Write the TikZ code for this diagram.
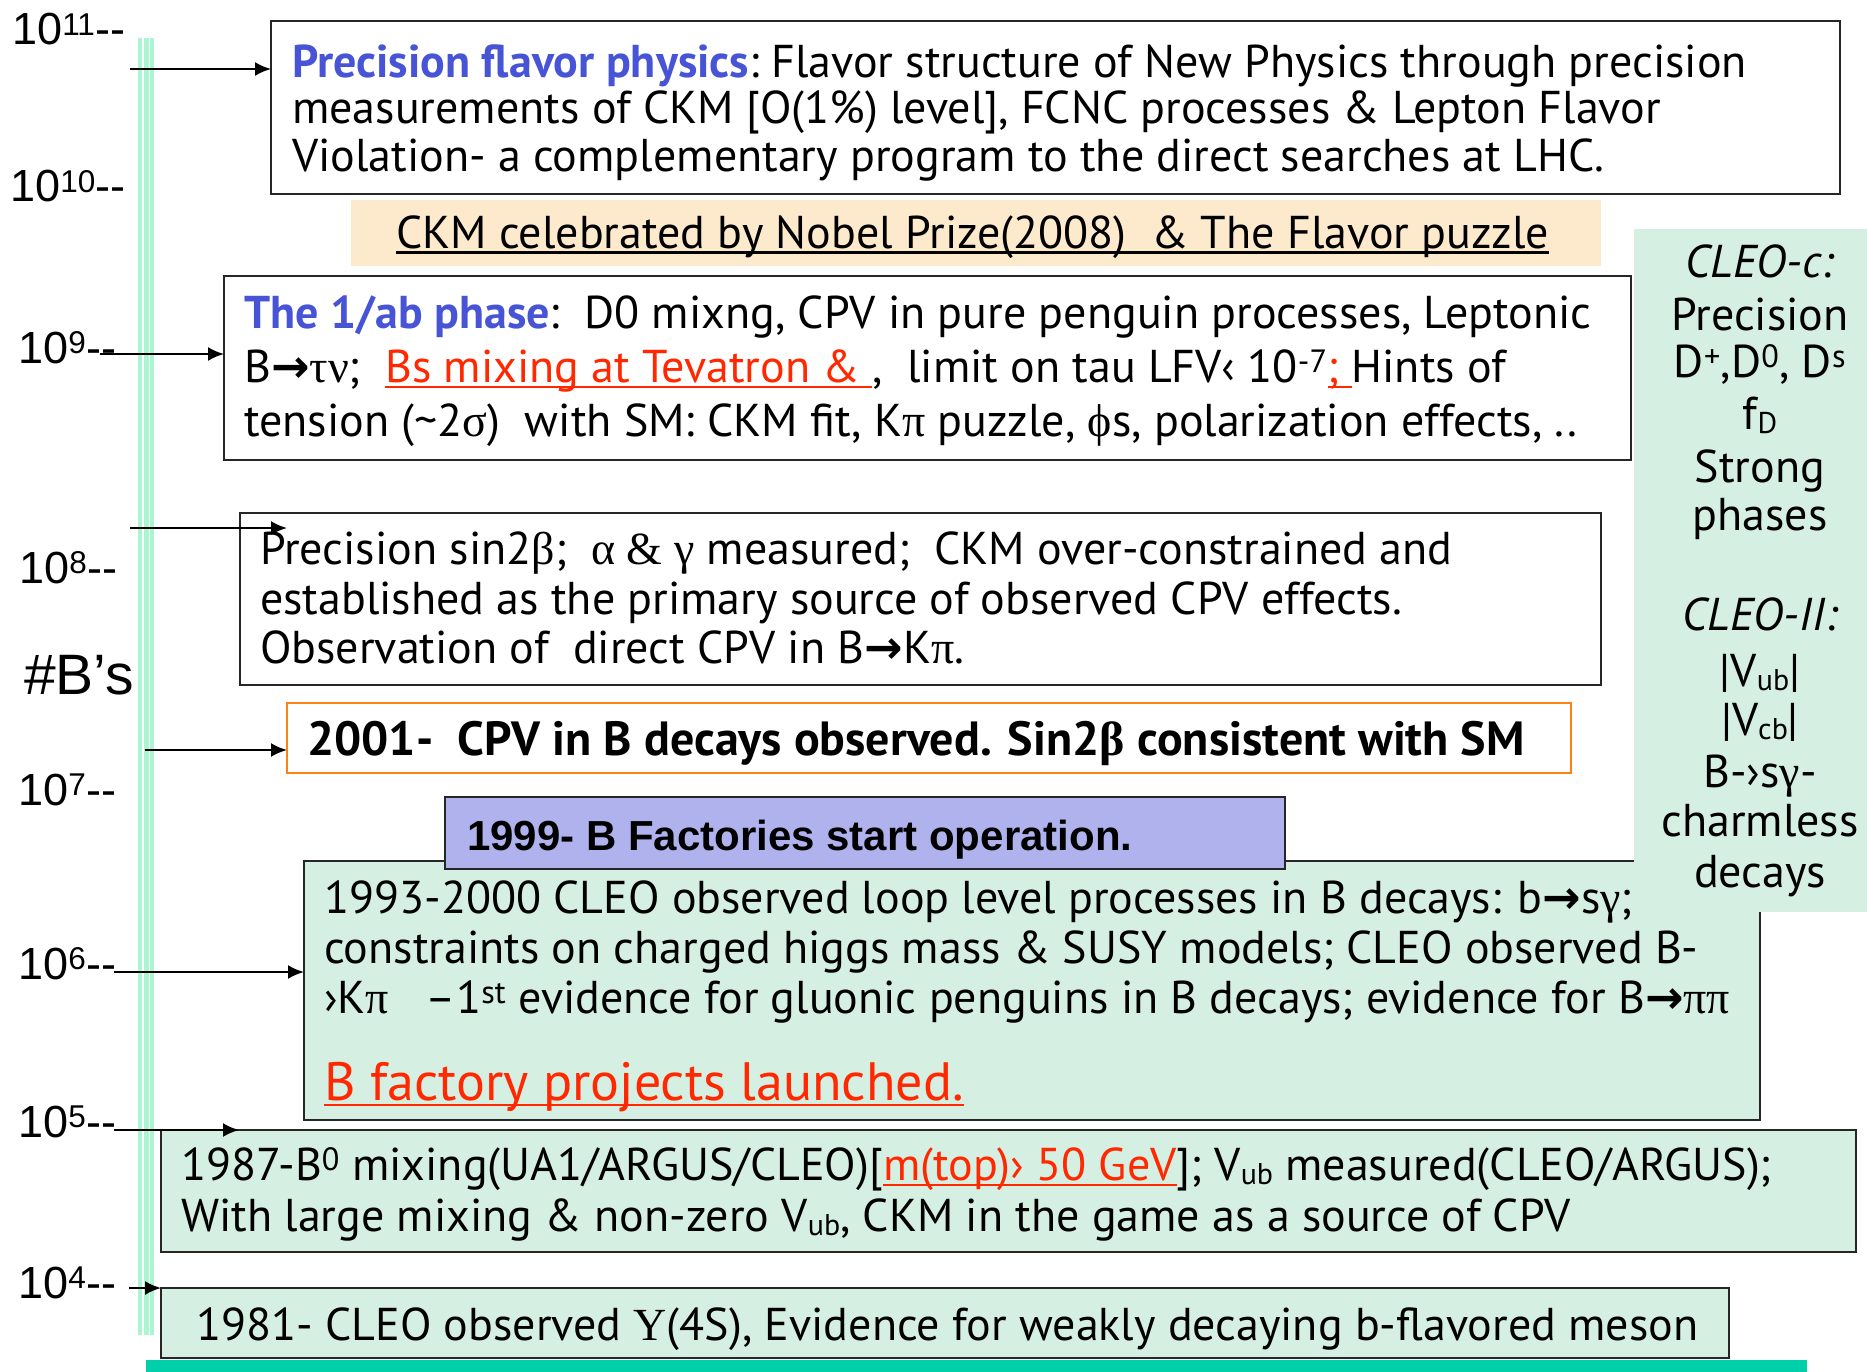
\documentclass[tikz,border=0pt]{standalone}
\usepackage{fontspec}
\setmainfont{PT Sans}
\newfontfamily\arialf{Liberation Sans}
\newfontfamily\grkf{Liberation Serif}
\newfontfamily\symf{DejaVu Sans}
\usetikzlibrary{arrows.meta}
\definecolor{mint}{RGB}{213,240,227}
\definecolor{peach}{RGB}{253,234,205}
\definecolor{lav}{RGB}{176,178,238}
\definecolor{fblue}{RGB}{72,84,214}
\definecolor{fred}{RGB}{255,40,0}
\definecolor{orng}{RGB}{255,128,20}
\definecolor{tealbar}{RGB}{0,208,170}
\definecolor{axg}{RGB}{170,245,210}
\newcommand{\myg}[1]{{\grkf #1}}
\newcommand{\myarr}{{\symf\bfseries →}}
\newcommand{\mysub}[1]{\raisebox{-0.1em}{\fontsize{30}{32}\selectfont #1}}
\newsavebox\myulbox
\newcommand{\myul}[1]{\sbox\myulbox{#1}\rlap{\rule[-6pt]{\wd\myulbox}{2.5pt}}\usebox\myulbox}
\begin{document}
\begin{tikzpicture}[x=1pt,y=-1pt,
 box/.style={draw=black!85, line width=2.5pt, anchor=north west, inner sep=0pt, outer sep=0pt},
 ln/.style={anchor=base west, inner sep=0pt, text height=33pt, text depth=11pt, font=\fontsize{46}{52}\selectfont},
 rp/.style={anchor=base, inner sep=0pt, text height=33pt, text depth=11pt, font=\fontsize{46}{52}\selectfont},
 axl/.style={anchor=base west, inner sep=0pt, font=\arialf\fontsize{45}{50}\selectfont},
 arr/.style={-{Latex[length=16pt,width=14pt]}, line width=2.2pt},
]
\useasboundingbox (0,0) rectangle (1867,1372);
\fill[white] (0,0) rectangle (1867,1372);
% boxes
\node[box, fill=white, minimum width=1569pt, minimum height=173pt] (b1) at (271,21) {};
\node[box, draw=none, fill=peach, minimum width=1250pt, minimum height=66pt] (bn) at (351,200) {};
\node[box, fill=white, minimum width=1407pt, minimum height=184pt] (b2) at (224,276) {};
\node[box, fill=white, minimum width=1361pt, minimum height=172pt] (b3) at (240,513) {};
\node[box, draw=orng, line width=2pt, fill=white, minimum width=1284pt, minimum height=70pt] (b4) at (287,703) {};
\node[box, fill=mint, minimum width=1456pt, minimum height=259pt] (b6) at (304,861) {};
\node[box, fill=lav, minimum width=840pt, minimum height=72pt] (b5) at (445,797) {};
\node[box, draw=none, fill=mint, minimum width=233pt, minimum height=683pt] (pn) at (1634,229) {};
\node[box, fill=mint, minimum width=1695pt, minimum height=122pt] (b7) at (161,1130) {};
\node[box, fill=mint, minimum width=1568pt, minimum height=70pt] (b8) at (161,1288) {};
\node[box, draw=none, fill=tealbar, minimum width=1661pt, minimum height=12pt] (bar) at (146,1360) {};
% axis lines
\fill[axg] (138,38) rectangle (154,1335);
\draw[white, line width=1.5pt] (143,38) -- (143,1335);
\draw[white, line width=1.5pt] (149.5,38) -- (149.5,1335);
% axis labels
\node[axl] (l11) at (12,45) {10\textsuperscript{11}-{}-};
\node[axl] (l10) at (10,202) {10\textsuperscript{10}-{}-};
\node[axl] (l9) at (18,363) {10\textsuperscript{9}-{}-};
\node[axl] (l8) at (19,583) {10\textsuperscript{8}-{}-};
\node[axl, font=\arialf\fontsize{57}{60}\selectfont] (lb) at (24,694) {\#B’s};
\node[axl] (l7) at (18,805) {10\textsuperscript{7}-{}-};
\node[axl] (l6) at (18,979) {10\textsuperscript{6}-{}-};
\node[axl] (l5) at (18,1137) {10\textsuperscript{5}-{}-};
\node[axl] (l4) at (18,1298) {10\textsuperscript{4}-{}-};
% arrows
\coordinate (s1) at (130,69);
\draw[arr] (s1) -- (s1 -| b1.west);
\coordinate (s2) at (100,354);
\draw[arr] (s2) -- (s2 -| b2.west);
\coordinate (s3) at (130,528);
\coordinate (e3) at (287,528);
\draw[arr] (s3) -- (e3);
\coordinate (s4) at (145,750);
\draw[arr] (s4) -- (s4 -| b4.west);
\coordinate (s5) at (114,972);
\draw[arr] (s5) -- (s5 -| b6.west);
\coordinate (s6) at (114,1130);
\coordinate (e6) at (239,1130);
\draw[arr] (s6) -- (e6);
\coordinate (s7) at (129,1288);
\draw[arr] (s7) -- (s7 -| b8.west);
% box 1
\node[ln] (t1a) at (292,78) {{\bfseries\color{fblue}Precision flavor physics}:\ Flavor structure of New Physics through precision};
\node[ln] (t1b) at (292,124) {measurements of CKM [O(1\%) level], FCNC processes \& Lepton Flavor};
\node[ln] (t1c) at (292,172) {Violation- a complementary program to the direct searches at LHC.};
% banner
\node[ln] (tbn) at (396,248) {\myul{CKM celebrated by Nobel Prize(2008)\ \ \& The Flavor puzzle}};
% box 2
\node[ln] (t2a) at (244,328) {{\bfseries\color{fblue}The 1/ab phase}:\ \ D0 mixng, CPV in pure penguin processes, Leptonic};
\node[ln] (t2b) at (244,382) {B\myarr\myg{τν};\ \ {\color{fred}\myul{Bs mixing at Tevatron \& }},\ \ limit on tau LFV‹ 10\textsuperscript{-7}{\color{fred}\myul{;\ }}Hints of};
\node[ln] (t2c) at (244,436) {tension (\textasciitilde2\myg{σ})\ \ with SM: CKM fit, K\myg{π} puzzle, \myg{ϕ}s, polarization effects, ..};
% box 3
\node[ln] (t3a) at (260,564) {Precision sin2\myg{β};\ \ \myg{α \& γ} measured;\ \ CKM over-constrained and};
\node[ln] (t3b) at (260,614) {established as the primary source of observed CPV effects.};
\node[ln] (t3c) at (260,663) {Observation of\ \ direct CPV in B\myarr K\myg{π}.};
% box 4
\node[ln, font=\bfseries\fontsize{48}{52}\selectfont] (t4) at (307,755) {2001-\ \ CPV in B decays observed. Sin2\myg{β} consistent with SM};
% box 5
\node[ln, font=\arialf\bfseries\fontsize{42}{46}\selectfont] (t5) at (467,850) {1999- B Factories start operation.};
% box 6
\node[ln] (t6a) at (324,913) {1993-2000 CLEO observed loop level processes in B decays: b\myarr s\myg{γ};};
\node[ln] (t6b) at (324,963) {constraints on charged higgs mass \& SUSY models; CLEO observed B-};
\node[ln] (t6c) at (324,1013) {›K\myg{π}\ \ \ –1\textsuperscript{st} evidence for gluonic penguins in B decays; evidence for B\myarr\myg{ππ}};
\node[ln, font=\fontsize{54}{58}\selectfont, text height=40pt] (t6d) at (324,1100) {{\color{fred}\myul{B factory projects launched.}}};
% box 7
\node[ln] (t7a) at (181,1180) {1987-B\textsuperscript{0} mixing(UA1/ARGUS/CLEO)[{\color{fred}\myul{m(top)› 50 GeV}}];\ V\mysub{ub} measured(CLEO/ARGUS);};
\node[ln] (t7b) at (181,1231) {With large mixing \& non-zero V\mysub{ub}, CKM in the game as a source of CPV};
% box 8
\node[ln] (t8) at (196,1340) {1981- CLEO observed \myg{Υ}(4S), Evidence for weakly decaying b-flavored meson};
% right panel
\node[rp] (p1) at (1760,277) {\itshape CLEO-c:};
\node[rp] (p2) at (1760,330) {Precision};
\node[rp] (p3) at (1760,377) {D\textsuperscript{+},D\textsuperscript{0}, D\textsuperscript{s}};
\node[rp] (p4) at (1760,429) {f\mysub{D}};
\node[rp] (p5) at (1760,482) {Strong};
\node[rp] (p6) at (1760,530) {phases};
\node[rp] (p7) at (1760,630) {\itshape CLEO-II:};
\node[rp] (p8) at (1760,686) {|V\mysub{ub}|};
\node[rp] (p9) at (1760,735) {|V\mysub{cb}|};
\node[rp] (p10) at (1760,787) {B-›s\myg{γ}-};
\node[rp] (p11) at (1760,836) {charmless};
\node[rp] (p12) at (1760,887) {decays};
\end{tikzpicture}
\end{document}
